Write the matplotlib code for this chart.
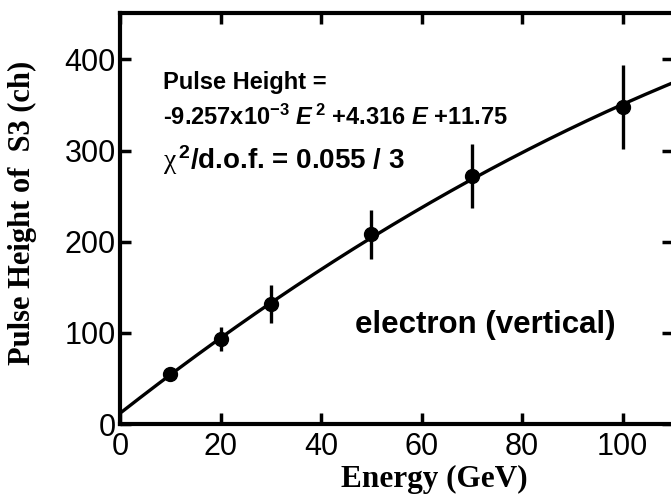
import numpy as np
import matplotlib
matplotlib.use('Agg')
import matplotlib.pyplot as plt

# data
energy = [10, 20, 30, 50, 70, 100]
pulse_height = [55, 93, 132, 208, 272, 348]
pulse_err = [8, 13, 21, 27, 35, 46]

# fit: -9.257e-3 E^2 + 4.316 E + 11.75
fit_coef = [-9.257e-3, 4.316, 11.75]

x_ticks = [0, 20, 40, 60, 80, 100]
y_ticks = [0, 100, 200, 300, 400]

plt.rcParams['mathtext.fontset'] = 'custom'
plt.rcParams['mathtext.rm'] = 'Liberation Sans:bold'
plt.rcParams['mathtext.it'] = 'Liberation Sans:italic:bold'
plt.rcParams['mathtext.bf'] = 'Liberation Sans:bold'
plt.rcParams['mathtext.cal'] = 'Liberation Serif'

fig = plt.figure(figsize=(6.71, 4.96), dpi=100)
ax = fig.add_axes([120/671, 72/496, 553/671, 411/496])

E = np.linspace(0, 110, 200)
ax.plot(E, np.polyval(fit_coef, E), color='black', lw=2.4)
ax.errorbar(energy, pulse_height, yerr=pulse_err, fmt='o', color='black',
            ms=10, elinewidth=2.4, capsize=0)

ax.set_xlim(0, 110)
ax.set_ylim(0, 451)
ax.set_xticks(x_ticks)
ax.set_yticks(y_ticks)
ax.tick_params(direction='in', length=8, width=2.5, top=True, right=True,
               labelsize=22)
ax.tick_params(axis='x', pad=6)
ax.tick_params(axis='y', pad=3)
for lab in ax.get_xticklabels() + ax.get_yticklabels():
    lab.set_family('Liberation Sans')
for s in ax.spines.values():
    s.set_linewidth(3)

ax.set_xlabel('Energy (GeV)', family='Liberation Serif', weight='bold', fontsize=22.5)
ax.xaxis.set_label_coords(0.568, -0.100)
ax.set_ylabel('Pulse Height of  S3 (ch)', family='Liberation Serif', weight='bold',
              fontsize=22)
ax.yaxis.set_label_coords(-0.150, 0.513)

ax.text(8.6, 375, 'Pulse Height =', family='Liberation Sans', weight='bold',
        fontsize=17, va='center')
ax.text(8.6, 337, r'-9.257x10$^{-3}$ $E^{\,2}$ +4.316 $E$ +11.75',
        family='Liberation Sans', weight='bold', fontsize=17, va='center')
ax.text(8.6, 290, r'$\mathcal{\chi}^{\,2}$/d.o.f. = 0.055 / 3', family='Liberation Sans',
        weight='bold', fontsize=20, va='center')
ax.text(46.8, 109, 'electron (vertical)', family='Liberation Sans', weight='bold',
        fontsize=22.5, va='center')

fig.savefig('out.png', dpi=100)
